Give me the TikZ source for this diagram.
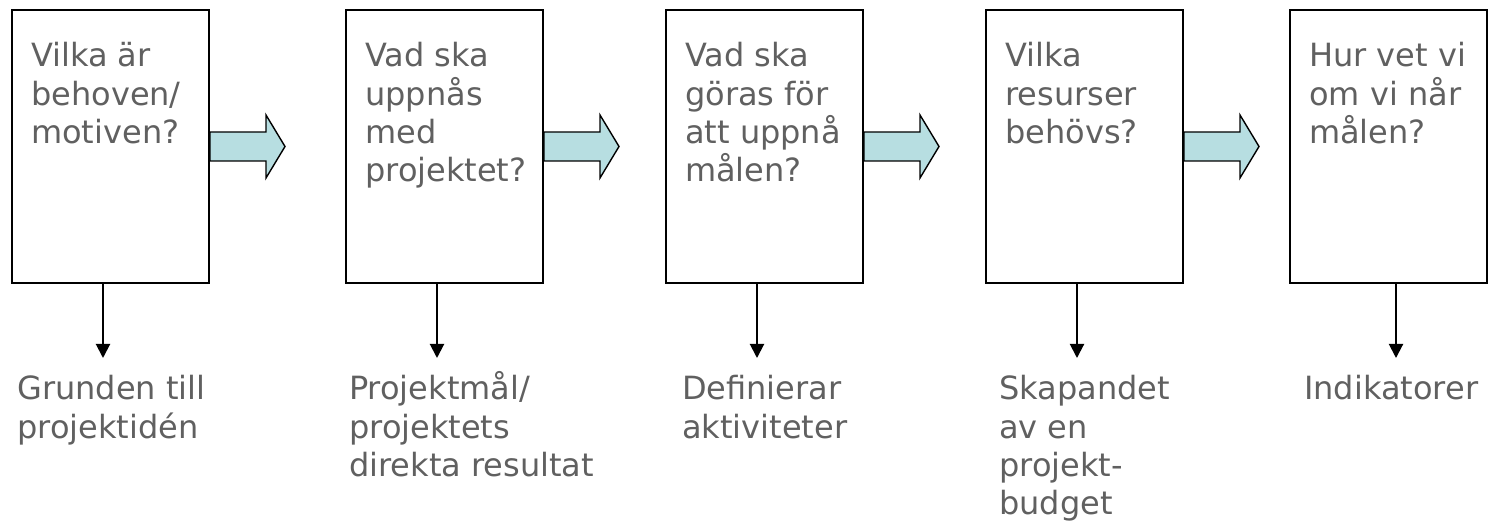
\documentclass[tikz,border=0pt]{standalone}
\usepackage{fontspec}
\setmainfont{DejaVu Sans}
\usepackage{tikz}
\usetikzlibrary{arrows.meta, positioning, calc}
\definecolor{txtgray}{RGB}{96,96,96}
\definecolor{arrowfill}{RGB}{183,222,225}

\begin{document}
\begin{tikzpicture}[x=1pt,y=1pt,
				box/.style={draw, line width=2pt, minimum width=197pt, minimum height=273pt, inner sep=0pt},
				qtext/.style={inner sep=0pt, align=left, anchor=base west, text=txtgray, font=\fontsize{32}{38.3}\selectfont},
				fatarrow/.style={draw, fill=arrowfill, line width=1.4pt, line join=miter},
				downarrow/.style={line width=2pt, -{Triangle[width=14pt,length=14pt]}}]
				\useasboundingbox (0,0) rectangle (1489,522);
				\node[box] (b1) at (110.5,375.5) {};
				\node[box, right=135pt of b1] (b2) {};
				\node[box, right=121pt of b2] (b3) {};
				\node[box, right=121pt of b3] (b4) {};
				\node[box, right=105pt of b4] (b5) {};
				% base anchor = baseline of the last line
				\node[qtext] (q1) at ($(b1.north west)+(20,-134.6)$) {Vilka är\\behoven/\\motiven?};
				\node[qtext] (q2) at ($(b2.north west)+(20,-172.9)$) {Vad ska\\uppnås\\med\\projektet?};
				\node[qtext] (q3) at ($(b3.north west)+(20,-172.9)$) {Vad ska\\göras för\\att uppnå\\målen?};
				\node[qtext] (q4) at ($(b4.north west)+(20,-134.6)$) {Vilka\\resurser\\behövs?};
				\node[qtext] (q5) at ($(b5.north west)+(20,-134.6)$) {Hur vet vi\\om vi når\\målen?};
				\foreach \i in {1,...,4}
					\draw[fatarrow] ($(b\i.east)+(0,14.5)$) -- ++(56,0) -- ++(0,17) -- ++(19,-31.5)
						-- ++(-19,-31.5) -- ++(0,17) -- ++(-56,0) -- cycle;
				\foreach \i/\dx in {1/-7.5,2/-7.5,3/-7.5,4/-7.5,5/7.5}{
					\coordinate (e\i) at ($(b\i.south)+(\dx,-74)$);
					\draw[downarrow] ($(b\i.south)+(\dx,0)$) -- (e\i);
				}
				\node[qtext] (l1) at (17,83.7) {Grunden till\\projektidén};
				\node[qtext] (l2) at (349,45.4) {Projektmål/\\projektets\\direkta resultat};
				\node[qtext] (l3) at (682,83.7) {Definierar\\aktiviteter};
				\node[qtext] (l4) at (999,7.1) {Skapandet\\av en\\projekt-\\budget};
				\node[qtext] (l5) at (1304,122) {Indikatorer};
			\end{tikzpicture}
\end{document}
